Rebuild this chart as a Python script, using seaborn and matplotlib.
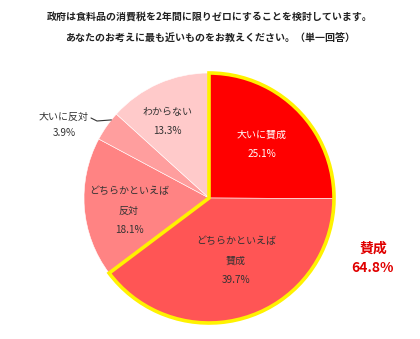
import matplotlib
matplotlib.use("Agg")
import matplotlib.pyplot as plt
from matplotlib.patches import Wedge
import numpy as np
import seaborn as sns

# Survey answers, clockwise from 12 o'clock
categories = ["大いに賛成", "どちらかといえば\n賛成", "どちらかといえば\n反対", "大いに反対", "わからない"]
shares = [25.1, 39.7, 18.1, 3.9, 13.3]
slice_colors = ["#FF0000", "#FF5555", "#FF8383", "#FF9E9E", "#FFCACA"]
text_colors = ["white", "#333333", "#333333", "#333333", "#333333"]
approve_idx = [0, 1]
approve_label = "賛成"
title_lines = [
    "政府は食料品の消費税を2年間に限りゼロにすることを検討しています。",
    "あなたのお考えに最も近いものをお教えください。（単一回答）",
]

sns.set_theme(style="white")
plt.rcParams["font.family"] = ["Noto Sans CJK JP", "DejaVu Sans"]

W, H = 420, 339
fig = plt.figure(figsize=(W / 100, H / 100), dpi=100)
ax = fig.add_axes([0, 0, 1, 1])
cx, cy, R = 209, 198, 125
ax.set_xlim(-cx / R, (W - cx) / R)
ax.set_ylim(-(H - cy) / R, cy / R)
ax.axis("off")

wedges, _ = ax.pie(
    shares, colors=slice_colors, startangle=90, counterclock=False,
    radius=1.0, center=(0, 0), normalize=True,
    wedgeprops=dict(edgecolor="white", linewidth=0.4),
)
ax.set_xlim(-cx / R, (W - cx) / R)
ax.set_ylim(-(H - cy) / R, cy / R)

# yellow outline around the approving answers
total = sum(shares)
approve_share = sum(shares[i] for i in approve_idx)
theta_end = 90
theta_start = 90 - 360 * approve_share / total
ax.add_patch(Wedge((0, 0), 1.0, theta_start, theta_end, facecolor="none",
                   edgecolor="#FFF200", linewidth=2.6, zorder=5))

def px(x, y):
    return (x - cx) / R, (cy - y) / R

fs = 7.2
# value labels inside / beside slices
label_pos = [(262, 135, 154), (236, 251, 280), (129, 201, 230), (64, 117, 133), (167, 112, 131)]
for i, (cat, val) in enumerate(zip(categories, shares)):
    x, y1, y2 = label_pos[i]
    if i == 3:
        ax.text(*px(x, y1), cat, ha="center", va="center", fontsize=fs, color=text_colors[i])
    else:
        ax.text(*px(x, y1), cat, ha="center", va="center", fontsize=fs,
                color=text_colors[i], linespacing=2.3)
    ax.text(*px(x, y2), f"{val}%", ha="center", va="center", fontsize=fs, color=text_colors[i])

# leader line for the thin slice
ang = np.deg2rad(90 - 360 * (shares[0] + shares[1] + shares[2] + 0.75 * shares[3]) / total)
ex, ey = np.cos(ang), np.sin(ang)
ax.plot([ex * 1.0, px(97, 121)[0], px(91, 118)[0]],
        [ey * 1.0, px(97, 121)[1], px(91, 118)[1]], color="#333333", lw=0.8)

# approving total
ax.text(*px(373, 249), approve_label, ha="center", va="center", fontsize=10,
        fontweight="bold", color="#E00000")
ax.text(*px(373, 268), f"{approve_share:.1f}%", ha="center", va="center", fontsize=10,
        fontweight="bold", color="#E00000")

fig.text(210 / W, 1 - 17 / H, title_lines[0], ha="center", va="center", fontsize=7.2,
         fontweight="bold", color="#222222")
fig.text(210 / W, 1 - 39 / H, title_lines[1], ha="center", va="center", fontsize=7.2,
         fontweight="bold", color="#222222")

fig.savefig("out.png", dpi=100)
